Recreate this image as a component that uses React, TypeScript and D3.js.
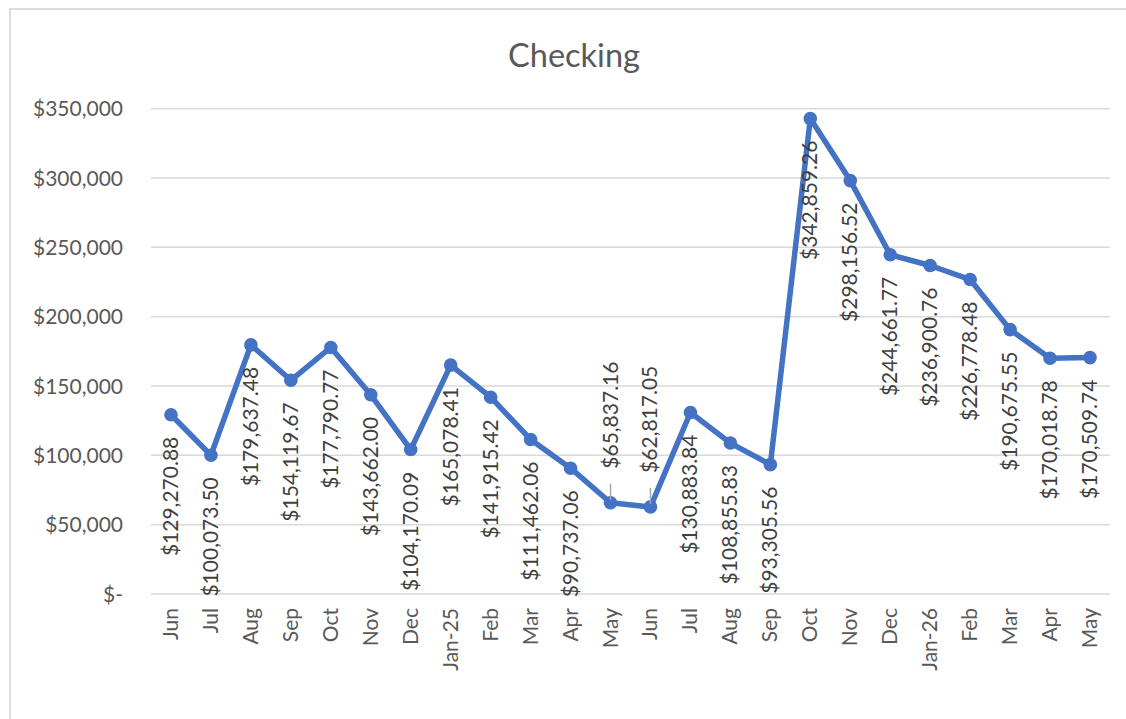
import React from "react";
import * as d3 from "d3";

const categories = ["Jun","Jul","Aug","Sep","Oct","Nov","Dec","Jan-25","Feb","Mar","Apr","May","Jun","Jul","Aug","Sep","Oct","Nov","Dec","Jan-26","Feb","Mar","Apr","May"];
const values = [129270.88,100073.50,179637.48,154119.67,177790.77,143662.00,104170.09,165078.41,141915.42,111462.06,90737.06,65837.16,62817.05,130883.84,108855.83,93305.56,342859.26,298156.52,244661.77,236900.76,226778.48,190675.55,170018.78,170509.74];
const yTicks = [0,50000,100000,150000,200000,250000,300000,350000];
const labelsAbove = [11, 12];

const FONT = "Lato, 'Open Sans', sans-serif";

export default function App() {
  const left = 151, right = 1110, top = 108.7, bottom = 594;
  const x = d3.scaleBand<number>().domain(categories.map((_, i) => i)).range([left, right]);
  const y = d3.scaleLinear().domain([0, 350000]).range([bottom, top]);
  const cx = (i: number) => (x(i) as number) + x.bandwidth() / 2;
  const line = d3.line<number>().x((_, i) => cx(i)).y(d => y(d));
  const fmtMoney = (v: number) => "$" + d3.format(",.2f")(v);
  const fmtTick = (v: number) => (v === 0 ? "$-" : "$" + d3.format(",")(v));

  return (
    <svg width={1126} height={719} style={{ position: "absolute", left: 0, top: 0, background: "#fff" }}>
      <rect x={10} y={9} width={1140} height={730} fill="#fff" stroke="#d9d9d9" strokeWidth={1.75} />
      <text x={574} y={67} textAnchor="middle" fontFamily={FONT} fontSize={32.5} fill="#595959">Checking</text>
      {yTicks.map(t => (
        <g key={t}>
          <line x1={left} x2={right} y1={y(t)} y2={y(t)} stroke="#d9d9d9" strokeWidth={1.5} />
          <text x={123} y={y(t)} dy="0.36em" textAnchor="end" fontFamily={FONT} fontSize={21} fill="#595959">{fmtTick(t)}</text>
        </g>
      ))}
      {categories.map((c, i) => (
        <text key={"c" + i} transform={`translate(${cx(i) + 7},608) rotate(-90)`} textAnchor="end" fontFamily={FONT} fontSize={21} fill="#595959">{c}</text>
      ))}
      <path d={line(values) as string} fill="none" stroke="#4472C4" strokeWidth={5.5} strokeLinejoin="round" strokeLinecap="round" />
      {values.map((v, i) => (
        <circle key={"p" + i} cx={cx(i)} cy={y(v)} r={6.8} fill="#4472C4" />
      ))}
      {values.map((v, i) => {
        const above = labelsAbove.includes(i);
        if (above) {
          return (
            <g key={"l" + i}>
              <line x1={cx(i)} x2={cx(i)} y1={y(v) - 19} y2={y(v) - 3} stroke="#a6a6a6" strokeWidth={1.5} />
              <text transform={`translate(${cx(i) + 7},${y(v) - 34}) rotate(-90)`} textAnchor="start" fontFamily={FONT} fontSize={21} fill="#404040">{fmtMoney(v)}</text>
            </g>
          );
        }
        return (
          <text key={"l" + i} transform={`translate(${cx(i) + 7},${y(v) + 22}) rotate(-90)`} textAnchor="end" fontFamily={FONT} fontSize={21} fill="#404040">{fmtMoney(v)}</text>
        );
      })}
    </svg>
  );
}
